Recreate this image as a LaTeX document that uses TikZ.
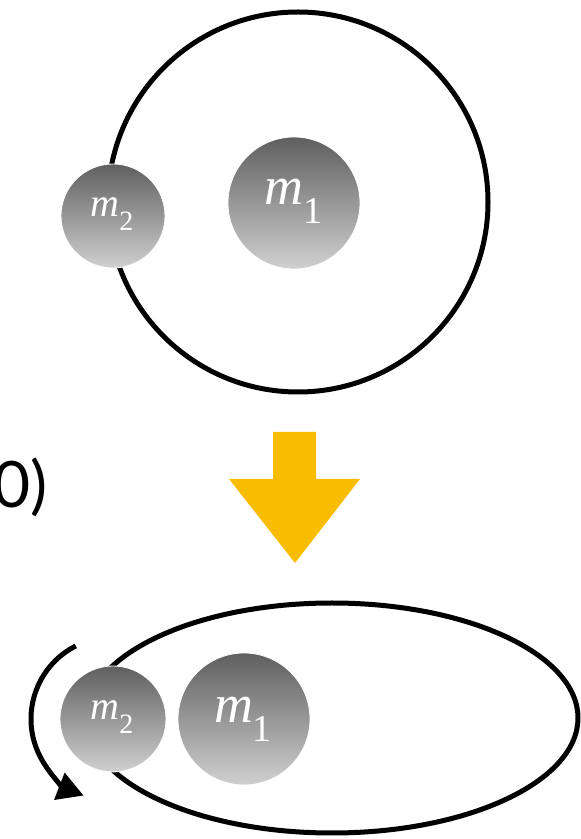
\documentclass[tikz,border=0pt]{standalone}
\usepackage{fontspec}
\setmainfont{Liberation Serif}
\newfontfamily\lblfont{Lato}
\usetikzlibrary{shapes.geometric,arrows.meta}
\definecolor{balltop}{RGB}{95,95,95}
\definecolor{ballbot}{RGB}{208,208,208}
\definecolor{arrowyellow}{RGB}{248,188,0}
\newcommand\mlab[3]{\fontsize{#1}{#1}\selectfont\textit{m}\raisebox{-0.34em}{\fontsize{#2}{#2}\selectfont #3}}
\tikzset{
  orbit/.style={draw=black, line width=5pt, inner sep=0pt},
  ball/.style={circle, inner sep=0pt, top color=balltop, bottom color=ballbot, draw=white, line width=0.8pt},
  balllabel/.style={anchor=base, inner sep=0pt, text=white},
  bigarrow/.style={fill=arrowyellow, draw=none},
  motion/.style={draw=black, line width=5pt, -{Triangle[length=26pt,width=28pt]}}
}
\begin{document}
\begin{tikzpicture}[x=1pt,y=1pt]
\useasboundingbox (0,0) rectangle (581,839);
% top: circular orbit
\node[orbit, circle, minimum size=380pt] (orbA) at (298,637) {};
\node[ball, minimum size=104pt] (m2a) at (113,623) {};
\node[ball, minimum size=132pt] (m1a) at (294,636) {};
\node[balllabel] (l2a) at (112,622) {\mlab{40}{28}{2}};
\node[balllabel] (l1a) at (293,634) {\mlab{54}{38}{1}};
% partially visible label
\node[anchor=base west, inner sep=0pt] (lbl) at (-7,331) {\lblfont\fontsize{64}{64}\selectfont 0)};
% yellow arrow
\path[bigarrow] (273,407) -- (316,407) -- (316,360) -- (360,360) -- (295,276) -- (229,360) -- (273,360) -- cycle;
% bottom: elliptical orbit
\node[orbit, ellipse, minimum width=492pt, minimum height=230pt] (orbB) at (332,121) {};
\node[ball, minimum size=106pt] (m2b) at (113,120) {};
\node[ball, minimum size=132pt] (m1b) at (244,120) {};
\node[balllabel] (l2b) at (112,119) {\mlab{40}{28}{2}};
\node[balllabel] (l1b) at (243,116) {\mlab{54}{38}{1}};
\draw[motion] (m2b.center) ++(117:82) arc[start angle=117, end angle=249, radius=82];
\end{tikzpicture}
\end{document}
